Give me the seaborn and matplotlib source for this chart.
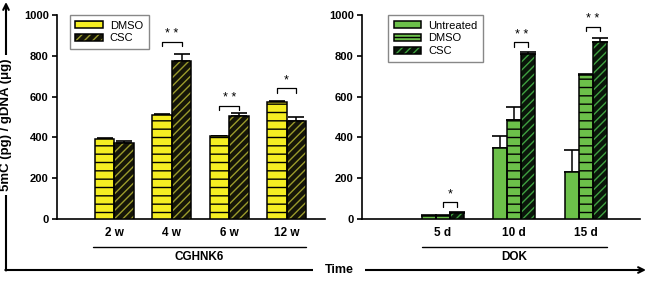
import pandas as pd
import matplotlib
matplotlib.use('Agg')
import matplotlib.pyplot as plt
import seaborn as sns
from matplotlib.patches import Patch, Rectangle
from matplotlib.legend_handler import HandlerTuple

# data
cghnk6_times = ['2 w', '4 w', '6 w', '12 w']
cghnk6_dmso = [393, 510, 405, 574]
cghnk6_dmso_err = [4, 4, 3, 6]
cghnk6_csc = [375, 775, 506, 478]
cghnk6_csc_err = [5, 32, 13, 21]

dok_times = ['5 d', '10 d', '15 d']
dok_untreated = [16, 347, 228]
dok_untreated_err = [3, 61, 111]
dok_dmso = [15, 483, 705]
dok_dmso_err = [3, 68, 4]
dok_csc = [30, 808, 866]
dok_csc_err = [4, 9, 22]

# significance: (group index, left series, right series, bracket y, label)
cghnk6_sig = [(1, 0, 1, 868, '* *'), (2, 0, 1, 556, '* *'), (3, 0, 1, 641, '*')]
dok_sig = [(0, 1, 2, 83, '*'), (1, 1, 2, 866, '* *'), (2, 1, 2, 943, '* *')]

sns.set_style('white')
plt.rcParams['font.family'] = ['Liberation Sans', 'DejaVu Sans']
plt.rcParams['hatch.linewidth'] = 1.0
for key in ['text.color', 'axes.labelcolor', 'xtick.color', 'ytick.color']:
    plt.rcParams[key] = 'black'

YELLOW = '#F5EE22'
GREEN = '#6CC04A'

# style per series: face, hatch, hatch colour
left_styles = {
    'DMSO': (YELLOW, '--', 'black'),
    'CSC': ('#151508', '////', '#9A9A2C'),
}
right_styles = {
    'Untreated': (GREEN, '', 'black'),
    'DMSO': (GREEN, '--', 'black'),
    'CSC': ('#0A160A', '////', '#3FA040'),
}

fig = plt.figure(figsize=(6.5, 2.82), dpi=100)
W, H = 650, 282


def px_axes(x0, x1, y_top, y_bot):
    return fig.add_axes([x0 / W, 1 - y_bot / H, (x1 - x0) / W, (y_bot - y_top) / H])


def panel(ax, times, series, errs, styles, width, xlim, sig, legend_x):
    names = list(styles.keys())
    rows = []
    for name, vals in zip(names, series):
        for t, v in zip(times, vals):
            rows.append({'time': t, 'group': name, 'value': v})
    df = pd.DataFrame(rows)
    sns.barplot(data=df, x='time', y='value', hue='group', hue_order=names,
                order=times, palette={n: styles[n][0] for n in names},
                width=width, errorbar=None, legend=False, ax=ax,
                saturation=1, zorder=3)

    centers = []
    for cont, name, err in zip(ax.containers, names, errs):
        face, hatch, hcol = styles[name]
        xs = []
        for bar, e in zip(cont.patches, err):
            bar.set_hatch(hatch)
            bar.set_edgecolor(hcol)
            bar.set_linewidth(0)
            x = bar.get_x() + bar.get_width() / 2
            xs.append(x)
            h = bar.get_height()
            ax.errorbar(x, h, yerr=[[0], [e]], fmt='none', ecolor='black',
                        elinewidth=1.1, capsize=5.5, capthick=1.2, zorder=2)
            ax.add_patch(Rectangle((bar.get_x(), 0), bar.get_width(), h,
                                   fill=False, edgecolor='black', lw=1.1,
                                   zorder=4))
        centers.append(xs)

    for gi, a, b, y, lab in sig:
        xa, xb = centers[a][gi], centers[b][gi]
        ax.plot([xa, xa, xb, xb], [y - 22, y, y, y - 22], color='black',
                lw=0.9, zorder=5)
        ax.text((xa + xb) / 2, y + 8, lab, ha='center', va='bottom',
                fontsize=9, zorder=5)

    ax.set_xlim(*xlim)
    ax.set_ylim(0, 1000)
    ax.set_yticks(range(0, 1001, 200))
    ax.set_xlabel('')
    ax.set_ylabel('')
    for side in ['top', 'right']:
        ax.spines[side].set_visible(False)
    for side in ['left', 'bottom']:
        ax.spines[side].set_linewidth(1.2)
        ax.spines[side].set_color('black')
    ax.tick_params(axis='y', direction='out', length=3.5, width=1.2,
                   pad=2.5, labelsize=8, left=True)
    ax.tick_params(axis='x', length=0, pad=6, labelsize=8.5)
    for lab in ax.get_xticklabels() + ax.get_yticklabels():
        lab.set_fontweight('bold')

    handles = []
    for name in names:
        face, hatch, hcol = styles[name]
        handles.append((Patch(facecolor=face, edgecolor=hcol, hatch=hatch, lw=0),
                        Patch(facecolor='none', edgecolor='black', lw=1.1)))
    leg = ax.legend(handles, names, loc='upper left',
                    bbox_to_anchor=(legend_x, 1.0), borderaxespad=0,
                    fontsize=8, handlelength=2.5, handleheight=0.6,
                    labelspacing=0.25, handletextpad=0.6, borderpad=0.5,
                    fancybox=False, framealpha=1,
                    handler_map={tuple: HandlerTuple(ndivide=1)})
    leg.get_frame().set_edgecolor('#888888')
    leg.get_frame().set_linewidth(1.0)


ax1 = px_axes(57, 325, 15, 219)
panel(ax1, cghnk6_times, [cghnk6_dmso, cghnk6_csc], [cghnk6_dmso_err, cghnk6_csc_err],
      left_styles, 0.68, (-1.0, 3.67), cghnk6_sig, 0.048)

ax2 = px_axes(362, 640, 15, 219)
panel(ax2, dok_times, [dok_untreated, dok_dmso, dok_csc],
      [dok_untreated_err, dok_dmso_err, dok_csc_err],
      right_styles, 0.59, (-1.13, 2.76), dok_sig, 0.094)

# overlay in pixel coordinates for the frame arrows and group labels
ov = fig.add_axes([0, 0, 1, 1], zorder=10)
ov.set_xlim(0, W)
ov.set_ylim(H, 0)
ov.axis('off')
ov.patch.set_alpha(0)

ov.annotate('', xy=(6, 2), xytext=(6, 270.5),
            arrowprops=dict(arrowstyle='->', lw=1.5, color='black',
                            shrinkA=0, shrinkB=0, mutation_scale=10))
ov.annotate('', xy=(646, 270), xytext=(5.3, 270),
            arrowprops=dict(arrowstyle='->', lw=1.5, color='black',
                            shrinkA=0, shrinkB=0, mutation_scale=10))
ov.text(6, 125, '5mC (pg) / gDNA (\u03bcg)', rotation=90, ha='center',
        va='center', fontsize=9.5, fontweight='bold',
        bbox=dict(facecolor='white', edgecolor='none', pad=3))
ov.text(339, 270, 'Time', ha='center', va='center', fontsize=9,
        fontweight='bold',
        bbox=dict(facecolor='white', edgecolor='none', pad=8))

ov.plot([93, 306], [247, 247], color='black', lw=1.0)
ov.plot([422, 607], [247, 247], color='black', lw=1.0)
ov.text(199, 257, 'CGHNK6', ha='center', va='center', fontsize=8.5,
        fontweight='bold')
ov.text(514, 257, 'DOK', ha='center', va='center', fontsize=8.5,
        fontweight='bold')

fig.savefig('out.png', dpi=100)
plt.close(fig)
